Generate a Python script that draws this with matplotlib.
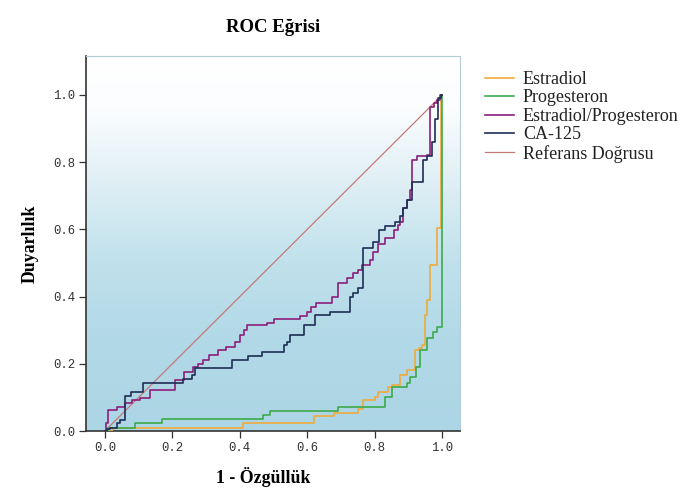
import numpy as np
import matplotlib
matplotlib.use("Agg")
import matplotlib.pyplot as plt
from matplotlib.colors import LinearSegmentedColormap

# ---- data (1 - specificity, sensitivity) ----
estradiol_x = [0.0, 0.02, 0.41, 0.62, 0.68, 0.75, 0.765, 0.801, 0.811, 0.84, 0.85, 0.875,
               0.895, 0.92, 0.93, 0.94, 0.95, 0.955, 0.964, 0.984, 0.998, 1.0]
estradiol_y = [0.0, 0.008, 0.025, 0.045, 0.055, 0.065, 0.092, 0.101, 0.117, 0.132, 0.137, 0.167,
               0.181, 0.241, 0.246, 0.256, 0.345, 0.39, 0.494, 0.603, 1.0, 1.0]

progesteron_x = [0.0, 0.01, 0.089, 0.168, 0.47, 0.49, 0.69, 0.83, 0.85, 0.895, 0.905, 0.924,
                 0.935, 0.954, 0.974, 0.984, 0.999, 1.0]
progesteron_y = [0.0, 0.009, 0.025, 0.035, 0.048, 0.06, 0.072, 0.101, 0.132, 0.142, 0.161, 0.191,
                 0.241, 0.276, 0.295, 0.31, 1.0, 1.0]

ratio_x = [0.0, 0.002, 0.01, 0.035, 0.059, 0.079, 0.104, 0.134, 0.208, 0.235, 0.262, 0.275,
           0.29, 0.31, 0.335, 0.36, 0.385, 0.4, 0.412, 0.42, 0.48, 0.5, 0.579, 0.599, 0.61,
           0.625, 0.672, 0.69, 0.717, 0.737, 0.752, 0.762, 0.786, 0.795, 0.81, 0.83, 0.856,
           0.87, 0.875, 0.885, 0.895, 0.905, 0.91, 0.925, 0.955, 0.965, 0.975, 0.985, 0.995, 1.0]
ratio_y = [0.0, 0.023, 0.062, 0.072, 0.082, 0.092, 0.097, 0.122, 0.152, 0.177, 0.19, 0.2,
           0.21, 0.226, 0.24, 0.25, 0.266, 0.286, 0.30, 0.315, 0.322, 0.332, 0.342, 0.355, 0.37,
           0.38, 0.40, 0.44, 0.454, 0.47, 0.479, 0.494, 0.51, 0.534, 0.558, 0.573, 0.598,
           0.613, 0.623, 0.663, 0.687, 0.717, 0.807, 0.817, 0.822, 0.965, 0.975, 0.985, 1.0, 1.0]

ca125_x = [0.0, 0.005, 0.015, 0.035, 0.045, 0.06, 0.077, 0.114, 0.232, 0.257, 0.267, 0.376,
           0.425, 0.465, 0.53, 0.539, 0.549, 0.589, 0.623, 0.667, 0.727, 0.737, 0.752, 0.765,
           0.796, 0.814, 0.83, 0.861, 0.875, 0.885, 0.895, 0.912, 0.942, 0.955, 0.97, 0.979,
           0.989, 0.996, 1.0]
ca125_y = [0.0, 0.005, 0.01, 0.023, 0.033, 0.105, 0.117, 0.144, 0.154, 0.167, 0.187, 0.21,
           0.223, 0.236, 0.256, 0.266, 0.286, 0.315, 0.345, 0.355, 0.40, 0.41, 0.425, 0.544,
           0.563, 0.598, 0.611, 0.621, 0.64, 0.663, 0.687, 0.742, 0.807, 0.817, 0.86, 0.93,
           0.99, 1.0, 1.0]

ref_x = [0.0, 1.0]
ref_y = [0.0, 1.0]

labels = ["Estradiol", "Progesteron", "Estradiol/Progesteron", "CA-125", "Referans Doğrusu"]
colors = ["#f0aa3c", "#3caa4a", "#8c1f7a", "#1e2d55", "#c47a78"]

xticks = [0.0, 0.2, 0.4, 0.6, 0.8, 1.0]
yticks = [0.0, 0.2, 0.4, 0.6, 0.8, 1.0]

title = "ROC Eğrisi"
xlabel = "1 - Özgüllük"
ylabel = "Duyarlılık"

# ---- figure ----
fig = plt.figure(figsize=(6.95, 4.93), dpi=100)
fig.patch.set_facecolor("white")
ax = fig.add_axes([86/695, 1 - 431/493, (460-86)/695, (431-56)/493])

xlim = (-0.056, 1.053)
ylim = (0.0, 1.116)

# background gradient
cmap = LinearSegmentedColormap.from_list(
    "bg", [(0.0, "#ffffff"), (0.14, "#fbfdfe"), (0.35, "#ddeef4"),
           (0.55, "#c0e1ec"), (0.75, "#b2d9e7"), (1.0, "#acd5e5")])
grad = np.linspace(0, 1, 256).reshape(-1, 1)
ax.imshow(grad, cmap=cmap, aspect="auto", extent=[xlim[0], xlim[1], ylim[0], ylim[1]],
          origin="upper", zorder=0, interpolation="bilinear")

series = [(estradiol_x, estradiol_y), (progesteron_x, progesteron_y),
          (ratio_x, ratio_y), (ca125_x, ca125_y)]
handles = []
for (xs, ys), lab, col in zip(series, labels[:4], colors[:4]):
    h, = ax.plot(xs, ys, drawstyle="steps-post", color=col, lw=1.2, label=lab, zorder=3)
    handles.append(h)
h, = ax.plot(ref_x, ref_y, color=colors[4], lw=0.9, label=labels[4], zorder=2)
handles.append(h)

ax.set_xlim(*xlim)
ax.set_ylim(*ylim)
ax.set_xticks(xticks)
ax.set_yticks(yticks)
ax.set_xticklabels([f"{t:.1f}" for t in xticks])
ax.set_yticklabels([f"{t:.1f}" for t in yticks])
for lab in ax.get_xticklabels() + ax.get_yticklabels():
    lab.set_fontfamily("Liberation Mono")
    lab.set_fontsize(8.8)
    lab.set_color("#333333")
ax.tick_params(axis="both", direction="out", length=5, width=0.9, color="#333333", pad=3)

for s in ["left", "bottom"]:
    ax.spines[s].set_color("#333333")
    ax.spines[s].set_linewidth(1.2)
for s in ["top", "right"]:
    ax.spines[s].set_color("#b4ccd4")
    ax.spines[s].set_linewidth(0.8)

serif = ["Liberation Serif", "DejaVu Serif"]
ax.set_title(title, fontfamily=serif, fontweight="bold", fontsize=13.5, pad=17)
ax.set_xlabel(xlabel, fontfamily=serif, fontweight="bold", fontsize=12.8, labelpad=9.5)
ax.xaxis.label.set_x((263 - 86) / (460 - 86))
ax.set_ylabel(ylabel, fontfamily=serif, fontweight="bold", fontsize=12.8, labelpad=10)

leg = fig.legend(handles=handles, labels=labels, loc="upper left",
                 bbox_to_anchor=(485/695, 1 - 71/493), frameon=False,
                 prop={"family": serif, "size": 13}, labelspacing=0.08,
                 handlelength=1.6, handletextpad=0.5, borderpad=0, borderaxespad=0)
for t in leg.get_texts():
    t.set_color("#222222")

fig.savefig("out.png", dpi=100, facecolor="white")
